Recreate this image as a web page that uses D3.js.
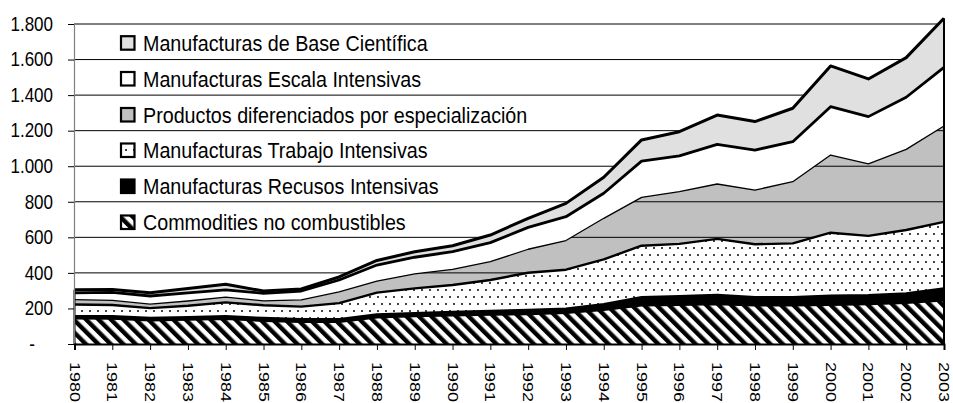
<!DOCTYPE html>
<html><head><meta charset="utf-8">
<script src="https://cdn.jsdelivr.net/npm/d3@7"></script>
<style>
html,body{margin:0;padding:0;background:#fff;}
svg{display:block;font-family:"Liberation Sans",Arial,sans-serif;}
</style></head>
<body>
<svg id="chart" width="953" height="403"></svg>
<script>
// ---- data ----
const years = [1980,1981,1982,1983,1984,1985,1986,1987,1988,1989,1990,1991,1992,1993,1994,1995,1996,1997,1998,1999,2000,2001,2002,2003];
const commodities = [144,142,132,136,140,130,124,124,149,156,161,164,168,174,191,216,220,224,216,216,220,224,231,244];
const recursos    = [14,16,16,16,17,17,16,17,18,19,20,23,25,26,34,49,50,53,49,49,53,51,54,69];
const trabajo     = [64,61,54,63,77,71,70,89,122,138,151,173,208,218,251,288,293,314,296,301,353,333,356,374];
const productos   = [28,26,22,27,30,25,38,63,65,81,88,103,132,164,231,272,294,309,305,347,437,405,454,539];
const escala      = [38,45,46,46,41,42,50,67,90,94,99,107,123,134,141,204,201,223,225,225,272,266,293,330];
const cientifica  = [17,16,18,24,31,13,12,17,26,31,34,43,51,75,90,119,136,165,160,188,229,212,223,276];
const seriesNames = ["Commodities no combustibles","Manufacturas Recusos Intensivas","Manufacturas Trabajo Intensivas","Productos diferenciados por especialización","Manufacturas Escala Intensivas","Manufacturas de Base Científica"];
const yTicks = [0,200,400,600,800,1000,1200,1400,1600,1800];
const yTickLabels = ["-","200","400","600","800","1.000","1.200","1.400","1.600","1.800"];

const keys = ["commodities","recursos","trabajo","productos","escala","cientifica"];
const table = years.map((yr,i)=>({year:yr, commodities:commodities[i], recursos:recursos[i], trabajo:trabajo[i], productos:productos[i], escala:escala[i], cientifica:cientifica[i]}));

const svg = d3.select("#chart");
const SY = 1.16;
const x = d3.scalePoint().domain(years).range([74.5, 944]);
const y = d3.scaleLinear().domain([0,1800]).range([344, 24]);

const defs = svg.append("defs");
// stripes
const stp = defs.append("pattern").attr("id","stripes").attr("patternUnits","userSpaceOnUse")
  .attr("width",8.8).attr("height",8.8).attr("patternTransform","rotate(-45)");
stp.append("rect").attr("width",8.8).attr("height",8.8).attr("fill","#fff");
stp.append("rect").attr("width",4.4).attr("height",8.8).attr("fill","#000");
// dots
const dp = defs.append("pattern").attr("id","dots").attr("patternUnits","userSpaceOnUse")
  .attr("width",8).attr("height",14);
dp.append("rect").attr("width",8).attr("height",14).attr("fill","#fff");
dp.append("rect").attr("x",1).attr("y",2).attr("width",2).attr("height",2).attr("fill","#444");
dp.append("rect").attr("x",5).attr("y",9).attr("width",2).attr("height",2).attr("fill","#444");

const fills = {commodities:"url(#stripes)", recursos:"#000", trabajo:"url(#dots)", productos:"#c0c0c0", escala:"#fff", cientifica:"#e0e0e0"};
const topW = {commodities:2, recursos:2, trabajo:2.4, productos:1.3, escala:2.8, cientifica:3};

const stack = d3.stack().keys(keys);
const layers = stack(table);

// gridlines (behind)
const grid = svg.append("g");
function drawGrid(g){
  g.selectAll("line.g").data(yTicks.filter(t=>t>0)).join("line").attr("class","g")
    .attr("x1",74).attr("x2",944).attr("y1",d=>y(d)).attr("y2",d=>y(d))
    .attr("stroke","#000").attr("stroke-width",1);
}
drawGrid(grid);

const area = d3.area().x(d=>x(d.data.year)).y0(d=>y(d[0])).y1(d=>y(d[1]));
const topLine = d3.line().x(d=>x(d.data.year)).y(d=>y(d[1]));

svg.append("g").selectAll("path").data(layers).join("path")
  .attr("d",area).attr("fill",d=>fills[d.key]).attr("stroke","none");

// gridlines visible over the grey layer
const prodLayer = layers.find(l=>l.key==="productos");
defs.append("clipPath").attr("id","prodClip").append("path").attr("d",area(prodLayer));
drawGrid(svg.append("g").attr("clip-path","url(#prodClip)"));

// outlines
svg.append("g").selectAll("path").data(layers).join("path")
  .attr("d",topLine).attr("fill","none").attr("stroke","#000")
  .attr("stroke-width",d=>topW[d.key]).attr("stroke-linejoin","round");
const topLayer = layers[layers.length-1];
[0, years.length-1].forEach(i=>{
  svg.append("line").attr("x1",x(years[i])).attr("x2",x(years[i]))
    .attr("y1",y(0)).attr("y2",y(topLayer[i][1])).attr("stroke","#000").attr("stroke-width",2);
});

// y axis
const yAxis = svg.append("g").attr("transform","translate(74,0)")
  .call(d3.axisLeft(y).tickValues(yTicks).tickFormat((d,i)=>yTickLabels[i]).tickSize(6).tickPadding(15));
yAxis.select(".domain").attr("stroke","#808080").attr("stroke-width",1.2);
yAxis.selectAll(".tick line").attr("stroke","#000");
yAxis.selectAll(".tick text").attr("font-size",17).attr("fill","#000")
  .attr("font-family","Liberation Sans, Arial, sans-serif")
  .attr("x",(d)=>d===0?-39:-21)
  .attr("transform",`scale(1,${SY})`);

// x axis
const xAxis = svg.append("g").attr("transform","translate(0,344)")
  .call(d3.axisBottom(x).tickSize(6));
xAxis.select(".domain").attr("stroke","#000").attr("stroke-width",2);
xAxis.selectAll(".tick line").attr("stroke","#000");
xAxis.selectAll(".tick text").attr("font-size",15.5).attr("fill","#000")
  .attr("font-family","Liberation Sans, Arial, sans-serif")
  .attr("x",0).attr("y",0).attr("dy","0.35em").attr("text-anchor","start")
  .attr("transform",`translate(0,18) rotate(90) scale(${SY},1)`);

// legend
const legendOrder = [5,4,3,2,1,0];
const baselines = [50.7,86.5,122.5,158,194,230];
const lg = svg.append("g");
legendOrder.forEach((si,row)=>{
  const b = baselines[row];
  lg.append("rect").attr("x",121).attr("y",b-14.5).attr("width",13.5).attr("height",13.5)
    .attr("fill",fills[keys[si]]).attr("stroke","#000").attr("stroke-width",2.2);
  lg.append("text").attr("transform",`translate(143,${b}) scale(1,${SY})`)
    .attr("font-size",19.7).attr("fill","#000").text(seriesNames[si]);
});
</script>
</body></html>
